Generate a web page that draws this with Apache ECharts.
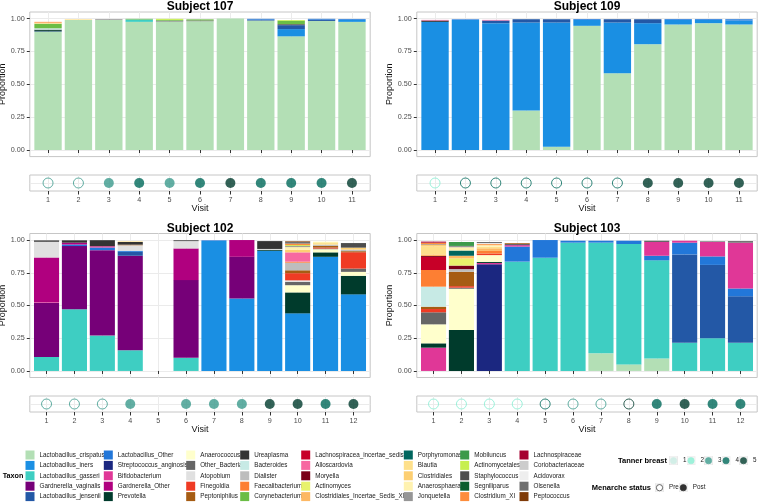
<!DOCTYPE html>
<html><head><meta charset="utf-8">
<script src="https://cdn.jsdelivr.net/npm/echarts@6/dist/echarts.min.js"></script>
<style>html,body{margin:0;padding:0;background:#fff}#c{width:760px;height:503px}</style>
</head><body><div id="c"></div>
<script>
// ---------------- DATA ----------------
const taxa = [
 'Lactobacillus_crispatus','Lactobacillus_iners','Lactobacillus_gasseri','Gardnerella_vaginalis','Lactobacillus_jensenii',
 'Lactobacillus_Other','Streptococcus_anginosis','Bifidobacterium','Gardnerella_Other','Prevotella',
 'Anaerococcus','Other_Bacteria','Atopobium','Finegoldia','Peptoniphilus',
 'Ureaplasma','Bacteroides','Dialister','Faecalibacterium','Corynebacterium',
 'Lachnospiracea_incertae_sedis','Alloscardovia','Moryella','Actinomyces','Clostridiales_Incertae_Sedis_XI',
 'Porphyromonas','Blautia','Clostridiales','Anaerosphaera','Jonquetella',
 'Mobiluncus','Actinomycetales','Staphylococcus','Segniliparus','Clostridium_XI',
 'Lachnospiraceae','Coriobacteriaceae','Acidovorax','Olsenella','Peptococcus'
];
const taxonColors = [
 '#b3dfb5','#1a8fe3','#3ecec2','#760078','#2358a6',
 '#2277d9','#1b2780','#e03797','#b0007f','#003b2c',
 '#ffffcc','#666666','#e0e0e0','#ef3b24','#a65c13',
 '#333333','#c7eae5','#bdbdbd','#fd7f33','#6bbd45',
 '#c70028','#f768a1','#7a0017','#e8f26c','#fdb863',
 '#01665e','#fee08b','#fdcf72','#fff2b0','#969696',
 '#3d9a4a','#c7ef4f','#4d4d4d','#0b5e2e','#fd8d3c',
 '#a50030','#cccccc','#eeeeee','#707070','#7f3b08'
];
const tannerStages = ['1','2','3','4','5'];
const tannerColors = ['#c8ebe2','#86eed2','#3b9a8c','#00695a','#003b2d'];
const yTickValues = [0, 0.25, 0.5, 0.75, 1];

const visits107 = [1,2,3,4,5,6,7,8,9,10,11];
const subj107 = {
 Lactobacillus_crispatus: [0.900,0.990,0.990,0.975,0.978,0.980,1.000,0.985,0.865,0.982,0.975],
 Lactobacillus_iners:     [0,0,0,0,0,0,0,0,0.055,0,0.016],
 Lactobacillus_gasseri:   [0,0,0,0.018,0,0,0,0,0,0,0],
 Lactobacillus_jensenii:  [0.003,0,0,0,0,0,0,0.007,0.030,0.010,0],
 Lactobacillus_Other:     [0,0,0,0,0,0,0,0.006,0,0.006,0.006],
 Prevotella:              [0.009,0,0,0,0,0,0,0,0,0,0],
 Other_Bacteria:          [0,0,0.004,0,0.006,0.006,0,0,0.008,0,0],
 Ureaplasma:              [0.004,0,0,0,0,0,0,0,0,0,0],
 Bacteroides:             [0.010,0,0,0,0,0,0,0,0,0,0],
 Corynebacterium:         [0.035,0,0,0.005,0.006,0.008,0,0,0.025,0,0],
 Blautia:                 [0.008,0.005,0,0,0,0,0,0,0,0,0],
 Actinomycetales:         [0,0,0,0,0.008,0,0,0,0.006,0,0],
 Clostridium_XI:          [0.006,0,0,0,0,0,0,0,0,0,0]
};
const tanner107   = [3,3,3,4,3,4,5,4,4,4,5];
const menarche107 = ['Pre','Pre','Post','Post','Post','Post','Post','Post','Post','Post','Post'];

const visits109 = [1,2,3,4,5,6,7,8,9,10,11];
const subj109 = {
 Lactobacillus_crispatus: [0,0,0,0.300,0.025,0.945,0.585,0.805,0.955,0.965,0.955],
 Lactobacillus_iners:     [0.975,0.990,0.965,0.670,0.945,0.045,0.385,0.160,0.035,0.025,0.030],
 Lactobacillus_jensenii:  [0,0,0.020,0.025,0.025,0,0.025,0.030,0,0,0],
 Lactobacillus_Other:     [0,0.005,0,0,0,0.006,0,0,0.006,0.006,0.010],
 Ureaplasma:              [0.010,0,0,0,0,0,0,0,0,0,0],
 Alloscardovia:           [0.005,0,0.005,0,0,0,0,0,0,0,0]
};
const tanner109   = [2,4,4,4,4,4,4,5,5,5,5];
const menarche109 = ['Pre','Pre','Pre','Pre','Pre','Pre','Pre','Post','Post','Post','Post'];

const visits102 = [1,2,3,4,5,6,7,8,9,10,11,12];
const subj102 = {
 Lactobacillus_iners:     [0,0,0,0,0,0,0.993,0.554,0.918,0.440,0.872,0.585],
 Lactobacillus_gasseri:   [0.107,0.472,0.270,0.158,0,0.100,0,0,0,0,0,0],
 Gardnerella_vaginalis:   [0.413,0.482,0.653,0.722,0,0.594,0,0.318,0,0,0,0],
 Lactobacillus_jensenii:  [0,0,0,0.030,0,0,0,0,0,0,0,0],
 Lactobacillus_Other:     [0,0.012,0.020,0.008,0,0,0.005,0,0,0,0,0],
 Bifidobacterium:         [0.005,0,0.010,0,0,0,0,0,0,0,0,0],
 Gardnerella_Other:       [0.342,0.014,0,0,0,0.242,0,0.128,0,0,0,0],
 Prevotella:              [0,0,0,0,0,0,0,0,0.008,0.160,0.034,0.142],
 Anaerococcus:            [0,0,0,0,0,0,0,0,0,0.055,0.024,0.030],
 Other_Bacteria:          [0,0,0,0,0,0,0,0,0,0.025,0.005,0.025],
 Atopobium:               [0.120,0,0,0.042,0,0.056,0,0,0.006,0.012,0,0],
 Finegoldia:              [0,0,0,0,0,0,0,0,0,0.055,0.008,0.125],
 Peptoniphilus:           [0,0,0,0.005,0,0,0,0,0,0.022,0.012,0.008],
 Ureaplasma:              [0.010,0.018,0.046,0.020,0,0.006,0,0,0.060,0,0,0],
 Dialister:               [0,0,0,0,0,0,0,0,0,0.058,0.010,0.012],
 Faecalibacterium:        [0,0,0,0,0,0,0,0,0,0.008,0,0],
 Alloscardovia:           [0,0,0,0,0,0,0,0,0,0.071,0,0],
 Blautia:                 [0,0,0,0.005,0,0,0,0,0,0,0.012,0],
 Clostridiales:           [0,0,0,0,0,0,0,0,0,0.020,0,0.015],
 Anaerosphaera:           [0,0,0,0,0,0,0,0,0,0.020,0.010,0],
 Jonquetella:             [0,0,0,0,0,0,0,0,0,0.008,0,0],
 Actinomycetales:         [0,0,0,0,0,0,0,0,0,0.007,0,0],
 Staphylococcus:          [0,0,0,0,0,0,0,0,0,0,0,0.035],
 Clostridium_XI:          [0,0,0,0,0,0,0,0,0,0.012,0,0],
 Olsenella:               [0,0,0,0,0,0,0,0,0,0.012,0,0],
 Peptococcus:             [0,0,0,0,0,0,0,0,0,0.005,0,0]
};
const tanner102   = [3,3,3,3,null,3,3,3,5,5,4,5];
const menarche102 = ['Pre','Pre','Pre','Post',null,'Post','Post','Post','Post','Post','Post','Post'];

const visits103 = [1,2,3,4,5,6,7,8,9,10,11,12];
const subj103 = {
 Lactobacillus_crispatus: [0,0,0,0,0,0,0.135,0.050,0.095,0,0,0],
 Lactobacillus_gasseri:   [0,0,0,0.835,0.865,0.980,0.845,0.920,0.750,0.215,0.250,0.215],
 Lactobacillus_jensenii:  [0,0,0,0,0,0,0,0,0,0.675,0.560,0.355],
 Lactobacillus_Other:     [0,0,0,0.115,0.135,0.015,0.015,0.025,0.035,0.090,0.065,0.060],
 Streptococcus_anginosis: [0,0,0.815,0,0,0,0,0,0,0,0,0],
 Bifidobacterium:         [0.178,0,0.010,0.008,0,0,0,0,0.105,0.015,0.110,0.350],
 Gardnerella_Other:       [0,0,0,0.004,0,0,0,0,0,0,0,0],
 Prevotella:              [0.033,0.313,0.008,0,0,0,0,0,0,0,0,0],
 Anaerococcus:            [0.145,0.315,0.052,0,0,0,0,0,0,0,0,0],
 Other_Bacteria:          [0.092,0.008,0,0.008,0,0,0,0,0.010,0,0.005,0.012],
 Finegoldia:              [0.025,0.012,0.012,0,0,0,0,0,0,0,0,0],
 Peptoniphilus:           [0.018,0.110,0,0.006,0,0,0,0,0,0,0,0],
 Bacteroides:             [0.153,0,0,0,0,0,0,0,0,0,0,0],
 Dialister:               [0,0.020,0,0,0,0,0,0,0,0,0,0],
 Faecalibacterium:        [0.127,0,0.020,0,0,0,0,0,0,0,0,0],
 Lachnospiracea_incertae_sedis: [0.100,0,0,0,0,0,0,0,0,0,0,0],
 Moryella:                [0.007,0.027,0,0,0,0,0,0,0,0,0,0],
 Actinomyces:             [0,0.055,0,0,0,0,0,0,0,0,0,0],
 Clostridiales_Incertae_Sedis_XI: [0.012,0.020,0.020,0,0,0,0,0,0,0,0,0],
 Porphyromonas:           [0,0.040,0,0,0,0,0,0,0,0,0,0],
 Blautia:                 [0.060,0,0.012,0,0,0,0,0,0,0,0,0],
 Clostridiales:           [0.012,0,0,0,0,0,0,0,0,0,0,0],
 Anaerosphaera:           [0,0.025,0.012,0,0,0,0,0,0,0,0,0],
 Jonquetella:             [0.006,0.010,0,0,0,0,0,0,0,0,0,0],
 Mobiluncus:              [0,0.030,0,0,0,0,0,0,0,0,0,0],
 Clostridium_XI:          [0.012,0,0.008,0,0,0,0,0,0,0,0,0],
 Lachnospiraceae:         [0.008,0,0,0,0,0,0,0,0,0,0,0],
 Acidovorax:              [0,0,0.008,0,0,0,0,0,0,0,0,0],
 Olsenella:               [0,0,0.008,0,0,0,0,0,0,0,0,0]
};
const tanner103   = [2,2,2,2,4,3,3,5,4,5,4,4];
const menarche103 = ['Pre','Pre','Pre','Pre','Pre','Pre','Pre','Pre','Post','Post','Post','Post'];

// ---------------- LAYOUT / STYLE ----------------
const FONT = '"Liberation Sans", Arial, Helvetica, sans-serif';
const subjects = [
 {title:'Subject 107', visits:visits107, comp:subj107, tanner:tanner107, men:menarche107},
 {title:'Subject 109', visits:visits109, comp:subj109, tanner:tanner109, men:menarche109},
 {title:'Subject 102', visits:visits102, comp:subj102, tanner:tanner102, men:menarche102},
 {title:'Subject 103', visits:visits103, comp:subj103, tanner:tanner103, men:menarche103}
];
const panelW = 340.4;
const boxes = [
 {left:29.8,  barTop:12,    barH:144.6, stripTop:175, stripH:16, titleY:7},
 {left:416.8, barTop:12,    barH:144.6, stripTop:175, stripH:16, titleY:7},
 {left:29.8,  barTop:233.5, barH:144,   stripTop:396, stripH:16, titleY:228.5},
 {left:416.8, barTop:233.5, barH:144,   stripTop:396, stripH:16, titleY:228.5}
];

const grid = [], xAxis = [], yAxis = [], series = [], graphic = [];
const gridStyle = {show:true, borderColor:'#c6c6c6', borderWidth:1, backgroundColor:'#fff', outerBoundsMode:'none', containLabel:false};
const tickStyle = {color:'#333333', width:1};
const splitStyle = {color:'#ebebeb', width:1};

subjects.forEach((s, i) => {
  const b = boxes[i];
  const n = s.visits.length;
  grid.push(Object.assign({left:b.left, top:b.barTop, width:panelW, height:b.barH}, gridStyle));
  xAxis.push({type:'value', gridIndex:i, min:0.4, max:n+0.6,
    axisLine:{show:false}, axisTick:{show:true, length:3, customValues:s.visits, lineStyle:tickStyle},
    axisLabel:{show:false}, splitLine:{show:true, lineStyle:splitStyle}});
  yAxis.push({type:'value', gridIndex:i, min:-0.05, max:1.05,
    axisLine:{show:false}, axisTick:{show:true, length:3, customValues:yTickValues, lineStyle:tickStyle},
    axisLabel:{customValues:yTickValues, formatter:v => v.toFixed(2), fontSize:7.2, color:'#4d4d4d', margin:5, fontFamily:FONT},
    splitLine:{show:true, lineStyle:splitStyle},
    name:'Proportion', nameLocation:'middle', nameGap:19.3, nameTextStyle:{fontSize:9, color:'#111', fontFamily:FONT}});
  graphic.push({type:'text', x:b.left + panelW/2, y:b.titleY, silent:true,
    style:{text:s.title, font:'bold 12px ' + FONT, fill:'#000', textAlign:'center', textVerticalAlign:'middle'}});
});
subjects.forEach((s, i) => {
  const b = boxes[i];
  const n = s.visits.length;
  grid.push(Object.assign({left:b.left, top:b.stripTop, width:panelW, height:b.stripH}, gridStyle));
  xAxis.push({type:'value', gridIndex:4+i, min:0.4, max:n+0.6,
    axisLine:{show:false}, axisTick:{show:true, length:3.5, customValues:s.visits, lineStyle:tickStyle},
    axisLabel:{customValues:s.visits, fontSize:7.2, color:'#4d4d4d', margin:5.5, fontFamily:FONT},
    splitLine:{show:true, lineStyle:splitStyle},
    name:'Visit', nameLocation:'middle', nameGap:12.5, nameTextStyle:{fontSize:9, color:'#111', fontFamily:FONT}});
  yAxis.push({type:'value', gridIndex:4+i, min:0.4, max:1.6,
    axisLine:{show:false}, axisTick:{show:false, customValues:[1]}, axisLabel:{show:false},
    splitLine:{show:true, lineStyle:splitStyle}});
});

// stacked bars (value dimension first so that the stack runs along y)
subjects.forEach((s, i) => {
  taxa.forEach((t, k) => {
    const vals = s.comp[t];
    series.push({type:'bar', name:t, xAxisIndex:i, yAxisIndex:i, stack:'st' + i, barWidth:'90%',
      silent:true, itemStyle:{color:taxonColors[k]}, encode:{x:1, y:0},
      data:s.visits.map((v, j) => [vals ? vals[j] : 0, v])});
  });
});
// tanner / menarche dots
subjects.forEach((s, i) => {
  tannerStages.forEach((st, si) => {
    const col = tannerColors[si];
    const pts = [];
    s.visits.forEach((v, j) => {
      if (String(s.tanner[j]) !== st) return;
      pts.push({value:[v, 1], itemStyle: s.men[j] === 'Pre'
        ? {color:'rgba(255,255,255,0)', borderColor:col, borderWidth:1}
        : {color:col}});
    });
    series.push({type:'scatter', name:st, xAxisIndex:4+i, yAxisIndex:4+i, symbol:'circle', symbolSize:10,
      silent:true, itemStyle:{color:col}, data:pts});
  });
});
series.push({type:'scatter', name:'Pre', xAxisIndex:4, yAxisIndex:4, data:[], itemStyle:{color:'#fff', borderColor:'#000'}});
series.push({type:'scatter', name:'Post', xAxisIndex:4, yAxisIndex:4, data:[], itemStyle:{color:'#000'}});

// legends
function keyIcon(fill, stroke) {
  const svg = '<svg xmlns="http://www.w3.org/2000/svg" width="20" height="20" viewBox="0 0 20 20">' +
    '<rect x="0.5" y="0.5" width="19" height="19" fill="#f0f0f0" stroke="#d6d6d6" stroke-width="1"/>' +
    '<circle cx="10" cy="10" r="7" fill="' + fill + '" stroke="' + stroke + '" stroke-width="1.6"/></svg>';
  return 'image://data:image/svg+xml;charset=utf-8,' + encodeURIComponent(svg);
}
const legendCols = [25.5, 103.8, 186.2, 240.2, 301.2, 403.8, 460.2, 519.5];
const legend = [];
legendCols.forEach((x, c) => {
  legend.push({orient:'vertical', left:x, top:450.5, padding:0, itemWidth:9, itemHeight:9, itemGap:1.4,
    icon:'rect', selectedMode:false, textStyle:{fontSize:6.3, color:'#1a1a1a', fontFamily:FONT},
    data:taxa.slice(c*5, c*5+5)});
});
legend.push({orient:'horizontal', left:669, top:456.2, width:95, padding:0, itemWidth:9, itemHeight:9, itemGap:0,
  selectedMode:false, textStyle:{fontSize:6.3, color:'#1a1a1a', fontFamily:FONT},
  data:tannerStages.map((st, si) => ({name:st, icon:keyIcon(tannerColors[si], tannerColors[si])}))});
legend.push({orient:'horizontal', left:655, top:483.2, width:80, padding:0, itemWidth:9, itemHeight:9, itemGap:0,
  selectedMode:false, textStyle:{fontSize:6.3, color:'#1a1a1a', fontFamily:FONT},
  data:[{name:'Pre', icon:keyIcon('#ffffff', '#000000')}, {name:'Post', icon:keyIcon('#000000', '#000000')}]});

graphic.push({type:'text', x:2.7, y:476, silent:true, style:{text:'Taxon', font:'bold 7.2px ' + FONT, fill:'#000', textAlign:'left', textVerticalAlign:'middle'}});
graphic.push({type:'text', x:667, y:460.7, silent:true, style:{text:'Tanner breast', font:'bold 7.5px ' + FONT, fill:'#000', textAlign:'right', textVerticalAlign:'middle'}});
graphic.push({type:'text', x:651, y:487.7, silent:true, style:{text:'Menarche status', font:'bold 7.5px ' + FONT, fill:'#000', textAlign:'right', textVerticalAlign:'middle'}});

const chart = echarts.init(document.getElementById('c'), null, {renderer:'canvas'});
chart.setOption({animation:false, backgroundColor:'#fff', grid, xAxis, yAxis, series, legend, graphic});
</script></body></html>
